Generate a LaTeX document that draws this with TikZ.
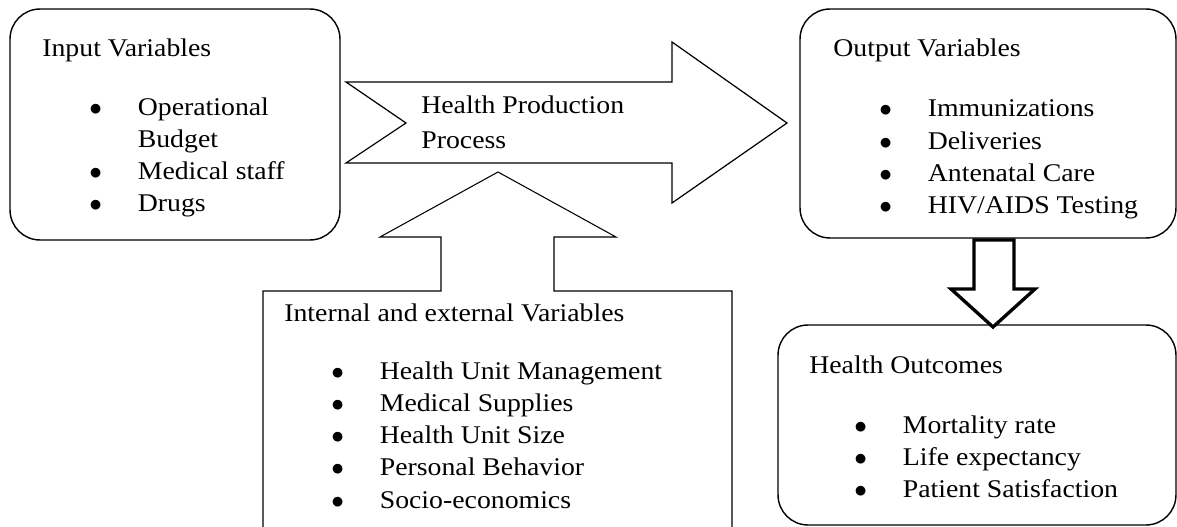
\documentclass[tikz,border=0pt]{standalone}
\usepackage{fontspec}
\setmainfont{Liberation Serif}[FakeStretch=1.09]
\usetikzlibrary{positioning}
\newcommand{\bodysize}{\fontsize{14.5}{18.4}\selectfont}
\newcommand{\bul}{$\bullet$}

\begin{document}
\begin{tikzpicture}[x=0.02cm, y=-0.02cm,
  panel/.style={rectangle, draw=black, line width=0.8pt, rounded corners=0.6cm, inner sep=0pt},
  title/.style={anchor=base west, inner sep=0pt, font=\bodysize},
  list/.style={anchor=base west, inner sep=0pt, font=\bodysize},
  blockarrow/.style={draw=black, line width=0.7pt, fill=white, line join=miter},
  thickarrow/.style={draw=black, line width=1.9pt, fill=white, line join=miter}
]
  \useasboundingbox (0,0) rectangle (1177,527);

  % Panels
  \node[panel, minimum width=6.6cm, minimum height=4.62cm] (input) at (175,124.5) {};
  \node[panel, minimum width=7.52cm, minimum height=4.58cm] (output) at (988,123.5) {};
  \node[panel, minimum width=7.96cm, minimum height=4cm] (outcomes) at (977,425) {};

  % Process arrow
  \draw[blockarrow] (346,82) -- (672,82) -- (672,42) -- (787,123) -- (672,203)
    -- (672,163) -- (346,163) -- (406,123) -- cycle;
  \node[list] (process) at (421,113) {\begin{tabular}[t]{@{}l@{}}Health Production\\[0.07cm] Process\end{tabular}};

  % Internal and external box with its arrow
  \draw[blockarrow, line width=0.6pt] (263,545) -- (263,291) -- (441,291) -- (441,237) -- (380,237)
    -- (498,172) -- (616,237) -- (554,237) -- (554,291) -- (732,291) -- (732,545);

  % Output to outcomes
  \draw[thickarrow] (974,240) -- (974,289) -- (951,289) -- (993,327) -- (1035,289)
    -- (1014,289) -- (1014,240) -- cycle;

  % Titles
  \node[title] (intitle) at (42,57) {Input Variables};
  \node[title] (outtitle) at (833,57) {Output Variables};
  \node[title] (vartitle) at (284,321) {Internal and external Variables};
  \node[title] (restitle) at (809,373) {Health Outcomes};

  % Lists
  \node[list] (inlist) at (89,115) {\begin{tabular}[t]{@{}p{0.97cm}@{}l@{}}
    \bul & Operational\\ & Budget\\ \bul & Medical staff\\ \bul & Drugs\end{tabular}};
  \node[list] (outlist) at (879,117) {\begin{tabular}[t]{@{}p{0.97cm}@{}l@{}}
    \bul & Immunizations\\ \bul & Deliveries\\ \bul & Antenatal Care\\
    \bul & HIV/AIDS Testing\end{tabular}};
  \node[list] (varlist) at (331,379) {\begin{tabular}[t]{@{}p{0.97cm}@{}l@{}}
    \bul & Health Unit Management\\ \bul & Medical Supplies\\ \bul & Health Unit Size\\
    \bul & Personal Behavior\\ \bul & Socio-economics\end{tabular}};
  \node[list] (reslist) at (854,433) {\begin{tabular}[t]{@{}p{0.97cm}@{}l@{}}
    \bul & Mortality rate\\ \bul & Life expectancy\\ \bul & Patient Satisfaction\end{tabular}};
\end{tikzpicture}
\end{document}
